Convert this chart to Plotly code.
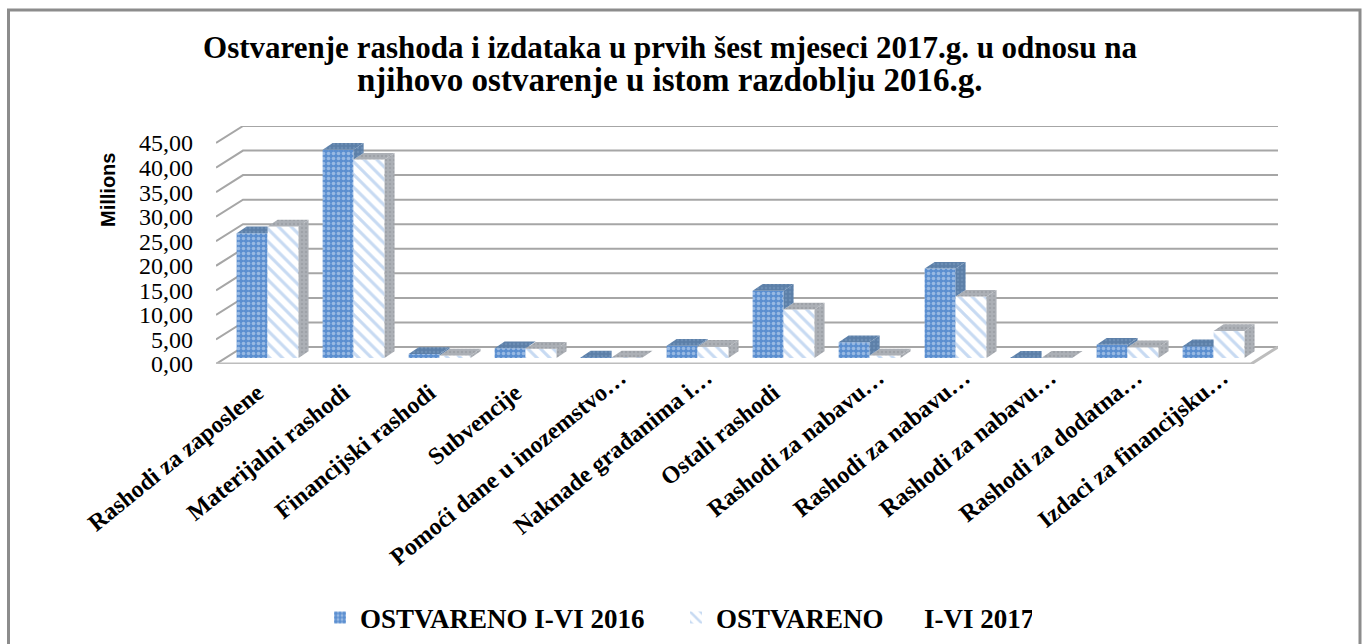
import plotly.graph_objects as go

categories = ["Rashodi za zaposlene", "Materijalni rashodi", "Financijski rashodi", "Subvencije",
              "Pomoći dane u inozemstvo…", "Naknade građanima i…", "Ostali rashodi", "Rashodi za nabavu…",
              "Rashodi za nabavu…", "Rashodi za nabavu…", "Rashodi za dodatna…", "Izdaci za financijsku…"]
series_2016 = [25.4, 42.4, 0.8, 2.0, 0.1, 2.5, 13.7, 3.2, 18.2, 0.05, 2.7, 2.4]
series_2017 = [26.8, 40.4, 0.5, 1.9, 0.1, 2.3, 9.9, 0.5, 12.5, 0.05, 2.2, 5.5]
y_ticks = [0, 5, 10, 15, 20, 25, 30, 35, 40, 45]
name_2016 = "OSTVARENO I-VI 2016"
name_2017 = "OSTVARENO\u00a0\u00a0\u00a0\u00a0\u00a0\u00a0I-VI 2017"
title_1 = "Ostvarenje rashoda i izdataka u prvih šest mjeseci 2017.g. u odnosu na"
title_2 = "njihovo ostvarenje u istom razdoblju 2016.g."

W, H = 1365, 644
FONT = "Liberation Serif"
PXX, PXY = 86.0, 221 / 45
X_MIN, X_MAX = -0.5, -0.5 + (1278 - 216) / PXX
Y_MIN, Y_MAX = 0, (364 - 126) / PXY
WALL_DX, WALL_DY = 27 / PXX, 17 / PXY      # floor depth
BASE = 6 / PXY                             # bars stand inset on floor
FACE_DX, FACE_DY = 10 / PXX, 6.7 / PXY     # bar depth
OFF1, BW = -0.26, 0.36
OFF2 = OFF1 + BW
LABEL_SHIFT = 0.2

fig = go.Figure()
n = len(categories)
xs = list(range(n))
tick_text = [c if c.endswith("…") else c + "\u00a0" * 4 for c in categories]

fig.add_bar(x=xs, y=series_2016, base=[BASE] * n, width=[BW] * n, offset=[OFF1] * n, name=name_2016,
            marker=dict(color="#5b8fd0", line_width=0,
                        pattern=dict(shape=".", bgcolor="#5b8fd0", fgcolor="#d5e4f6", size=5, solidity=0.4)))
fig.add_bar(x=xs, y=series_2017, base=[BASE] * n, width=[BW] * n, offset=[OFF2] * n, name=name_2017,
            marker=dict(color="#ffffff", line_width=0,
                        pattern=dict(shape="\\", bgcolor="#ffffff", fgcolor="#8fb5e6", size=9, solidity=0.35)))


def poly(px, py, bg, fg):
    fig.add_scatter(x=px, y=py, mode="lines", fill="toself", fillcolor=bg, line=dict(width=0, color=bg),
                    showlegend=False, hoverinfo="skip",
                    fillpattern=dict(shape=".", bgcolor=bg, fgcolor=fg, size=4, solidity=0.3))


DARK1, DARK1F = "#5c7fa8", "#7c9cc2"
DARK2, DARK2F = "#acb0b6", "#8f9399"
for i in xs:
    a, b = series_2016[i], series_2017[i]
    x0, x1, x2 = i + OFF1, i + OFF2, i + OFF2 + BW
    t = BASE + b
    poly([x1, x1 + FACE_DX, x2 + FACE_DX, x2, x1], [t, t + FACE_DY, t + FACE_DY, t, t], DARK2, DARK2F)
    poly([x2, x2 + FACE_DX, x2 + FACE_DX, x2, x2], [BASE, BASE + FACE_DY, t + FACE_DY, t, BASE], DARK2, DARK2F)
    t = BASE + a
    if a > b:
        poly([x0, x0 + FACE_DX, x1 + FACE_DX, x1, x0], [t, t + FACE_DY, t + FACE_DY, t, t], DARK1, DARK1F)
        low = BASE + b
        poly([x1, x1 + FACE_DX, x1 + FACE_DX, x1, x1], [low, low + FACE_DY, t + FACE_DY, t, low], DARK1, DARK1F)
    else:
        poly([x0, x0 + FACE_DX, x1, x1, x0], [t, t + FACE_DY, t + FACE_DY, t, t], DARK1, DARK1F)

GRID = "#a6a6a6"
shapes = [dict(type="path", xref="paper", yref="paper",
               path=f"M {8.5 / W} {1 - 660 / H} L {8.5 / W} {1 - 10 / H} L {1360 / W} {1 - 10 / H} L {1360 / W} {1 - 660 / H}",
               line=dict(color="#8c8c8c", width=3), layer="below")]
for v in y_ticks:
    shapes.append(dict(type="path", xref="x", yref="y", layer="below",
                       path=f"M {X_MIN} {v} L {X_MIN + WALL_DX} {v + WALL_DY} L {X_MAX} {v + WALL_DY}",
                       line=dict(color=GRID, width=2)))
x_fr = X_MAX - WALL_DX
shapes.append(dict(type="path", xref="x", yref="y", layer="below",
                   path=f"M {X_MIN} 0 L {x_fr} 0 L {X_MAX} {WALL_DY}",
                   line=dict(color="#bdbdbd", width=3)))

fig.update_layout(
    width=W, height=H, margin=dict(l=0, r=0, t=0, b=0, autoexpand=False), paper_bgcolor="white",
    plot_bgcolor="rgba(0,0,0,0)",
    barmode="overlay", separators=",.", shapes=shapes,
    font=dict(family=FONT, color="#000000"),
    title=dict(text=f"<b>{title_1}</b>", x=670 / W, xanchor="center", y=1 - 47 / H, yanchor="middle",
               font=dict(size=31, family=FONT, color="#000000")),
    xaxis=dict(domain=[216 / W, 1278 / W], range=[X_MIN, X_MAX], tickmode="array",
               tickvals=[i + LABEL_SHIFT for i in xs], ticktext=tick_text,
               tickangle=-39, showgrid=False, zeroline=False, showline=False, ticks="", automargin=False,
               ticklabelstandoff=-6,
               tickfont=dict(size=24, family=FONT, color="#000000", weight="bold")),
    yaxis=dict(domain=[1 - 364 / H, 1 - 126 / H], range=[Y_MIN, Y_MAX], tickmode="array", tickvals=y_ticks,
               tickformat=".2f", showgrid=False, zeroline=False, showline=False, ticks="", automargin=False,
               ticklabelstandoff=22,
               tickfont=dict(size=24, family=FONT, color="#000000")),
    legend=dict(orientation="h", xref="container", yref="container", x=320 / W, xanchor="left", y=1 - 618 / H,
                yanchor="middle", entrywidth=311, entrywidthmode="pixels",
                font=dict(size=27, family=FONT, color="#000000", weight="bold"),
                itemclick=False, bgcolor="rgba(0,0,0,0)"),
    annotations=[dict(text="<b>Millions</b>", xref="paper", yref="paper", x=108 / W, y=1 - 190 / H, textangle=-90,
                      xanchor="center", yanchor="middle",
                      showarrow=False, font=dict(size=20, family="Liberation Sans", color="#000000")),
                 dict(text=f"<b>{title_2}</b>", xref="paper", yref="paper", x=670 / W, y=1 - 80 / H, yanchor="middle",
                      showarrow=False, font=dict(size=33, family=FONT, color="#000000"))],
)

fig.write_html("out.html", config=dict(displayModeBar=False),
               post_script="document.body.style.margin='0';document.body.style.overflow='hidden';")
